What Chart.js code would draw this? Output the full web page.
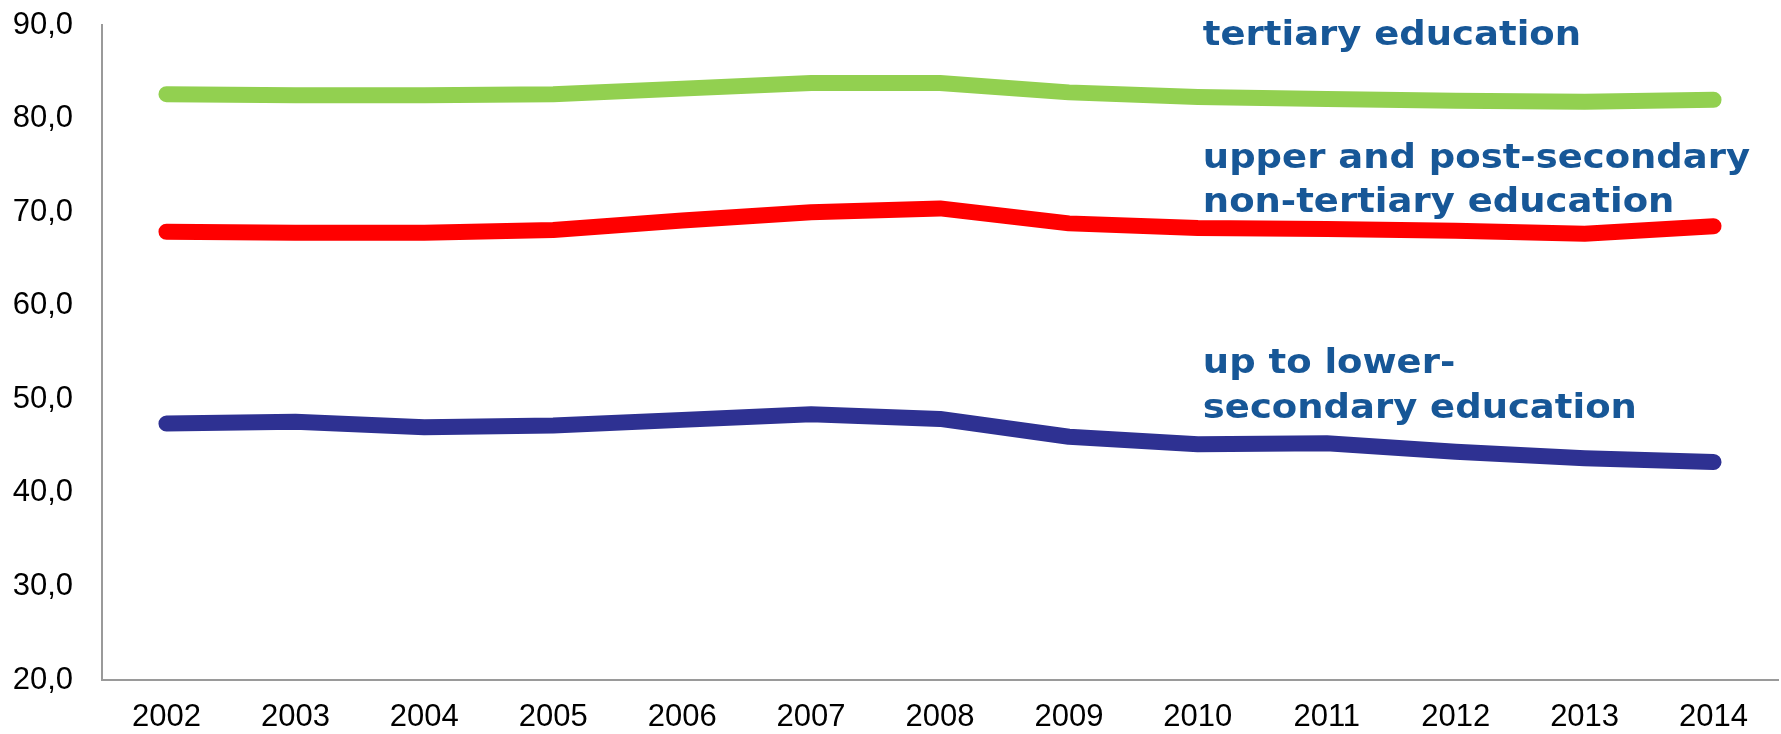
<!DOCTYPE html>
<html>
<head>
<meta charset="utf-8">
<script src="https://cdn.jsdelivr.net/npm/chart.js@4/dist/chart.umd.min.js"></script>
<style>
    html, body { margin: 0; padding: 0; background: #fff; }
    canvas { display: block; }
</style>
</head>
<body>
<canvas id="chart" width="1781" height="734"></canvas>
<script>
// --- Data ---
const years = ['2002', '2003', '2004', '2005', '2006', '2007', '2008', '2009', '2010', '2011', '2012', '2013', '2014'];
const tertiary = [82.6, 82.5, 82.5, 82.6, 83.2, 83.8, 83.8, 82.8, 82.3, 82.1, 81.9, 81.8, 82.0];
const upperSecondary = [67.9, 67.8, 67.8, 68.1, 69.1, 70.0, 70.4, 68.8, 68.3, 68.2, 68.0, 67.7, 68.5];
const lowerSecondary = [47.4, 47.6, 47.0, 47.2, 47.8, 48.4, 47.9, 46.0, 45.2, 45.3, 44.4, 43.7, 43.3];

// series labels drawn inside the chart: text, anchor category, anchor value (baseline)
const labelLines = ['tertiary education', 'upper and post-secondary', 'non-tertiary education', 'up to lower-', 'secondary education'];
const labelValues = [87.9, 74.7, 70.0, 52.8, 48.0];
const labelAnchor = '2010';

// --- Text labels plugin ---
const seriesLabels = {
    id: 'seriesLabels',
    afterDatasetsDraw(chart) {
        const ctx = chart.ctx;
        const x = chart.scales.x.getPixelForValue(years.indexOf(labelAnchor)) + 5;
        ctx.save();
        ctx.fillStyle = '#175797';
        ctx.font = 'bold 33px "DejaVu Sans"';
        ctx.textBaseline = 'alphabetic';
        ctx.textAlign = 'left';
        labelLines.forEach((text, i) => {
            const y = chart.scales.y.getPixelForValue(labelValues[i]);
            ctx.save();
            ctx.translate(x, y);
            ctx.scale(1.12, 1); // labels are a bit wider than the font
            ctx.fillText(text, 0, 0);
            ctx.restore();
        });
        ctx.restore();
    }
};

function lineSet(data, color) {
    return {
        data: data,
        borderColor: color,
        backgroundColor: color,
        borderWidth: 16,
        borderCapStyle: 'round',
        borderJoinStyle: 'round',
        pointRadius: 0,
        tension: 0,
        fill: false
    };
}

const tickFont = { family: '"Liberation Sans", Arial, sans-serif', size: 31 };

new Chart(document.getElementById('chart'), {
    type: 'line',
    data: {
        labels: years,
        datasets: [
            lineSet(tertiary, '#92D050'),
            lineSet(upperSecondary, '#FF0000'),
            lineSet(lowerSecondary, '#2E3192')
        ]
    },
    options: {
        responsive: false,
        animation: false,
        devicePixelRatio: 1,
        layout: { padding: { top: 25, right: 3, left: 0, bottom: 0 } },
        plugins: {
            legend: { display: false },
            tooltip: { enabled: false }
        },
        scales: {
            x: {
                offset: true,
                grid: { display: false, drawTicks: false },
                border: { display: true, color: '#9a9a9a', width: 2 },
                ticks: { font: tickFont, color: '#000', padding: 19, maxRotation: 0, autoSkip: false },
                afterFit: (s) => { s.height = 54; }
            },
            y: {
                min: 20,
                max: 90,
                grid: { display: false, drawTicks: false },
                border: { display: true, color: '#9a9a9a', width: 2 },
                ticks: {
                    stepSize: 10,
                    font: tickFont,
                    color: '#000',
                    padding: 29,
                    callback: (v) => v.toFixed(1).replace('.', ',')
                },
                afterFit: (s) => {
                    s.width = 102;
                    s.paddingTop = 0;
                    s.paddingBottom = 0;
                }
            }
        }
    },
    plugins: [seriesLabels]
});
</script>
</body>
</html>
